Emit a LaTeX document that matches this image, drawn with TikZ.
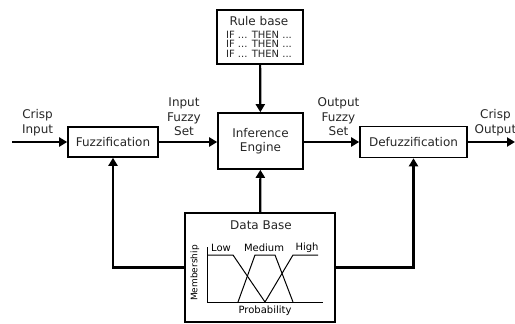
\documentclass[tikz,border=0pt]{standalone}
\usepackage{fontspec}
\setmainfont{DejaVu Sans}
\usetikzlibrary{arrows.meta}
\begin{document}
\begin{tikzpicture}[x=1pt,y=-1pt,
  block/.style={draw,line width=1.6pt,align=center,font=\fontsize{12}{14.5}\selectfont,text=black!85},
  flow/.style={line width=2.2pt,-{Triangle[length=8pt,width=9pt]}},
  lbl/.style={align=center,font=\fontsize{12}{14.5}\selectfont,text=black!85,inner sep=1pt},
  curve/.style={line width=1pt},
  small/.style={font=\fontsize{10}{11}\selectfont,inner sep=0pt}]
\useasboundingbox (0,0) rectangle (515,324);
\node[block,minimum width=90pt,minimum height=30pt] (fuzz) at (113,142) {Fuzzification};
\node[block,minimum width=85pt,minimum height=56pt] (inf) at (260.5,141) {Inference\\Engine};
\node[block,minimum width=107pt,minimum height=31pt] (defuzz) at (413.5,142) {Defuzzification};
\node[block,minimum width=86pt,minimum height=54pt] (rule) at (260,37) {};
\node[block,minimum width=150pt,minimum height=109pt] (db) at (260,267.5) {};
\coordinate (in) at (12,142);
\coordinate (out) at (515,142);
% rule base text
\node[lbl] (rulename) at (259,21) {Rule base};
\node[lbl,font=\fontsize{10}{9.6}\selectfont] (ifs) at (259,44) {IF ... THEN ...\\IF ... THEN ...\\IF ... THEN ...};
% inputs and outputs
\draw[flow] (in) -- node[lbl,above=4pt,xshift=-2pt] {Crisp\\Input} (fuzz);
\draw[flow] (fuzz) -- node[lbl,above=4pt,xshift=-4pt] {Input\\Fuzzy\\Set} (fuzz -| inf.west);
\draw[flow] (inf.east |- defuzz) -- node[lbl,above=4pt,xshift=7pt] {Output\\Fuzzy\\Set} (defuzz);
\draw[flow] (defuzz) -- node[lbl,above=4pt,xshift=4pt] {Crisp\\Output} (out);
\draw[flow] (rule) -- (inf);
% data base feeds all three
\draw[flow] (db) -- (inf);
\draw[flow] (db.west) -| (fuzz);
\draw[flow] (db.east) -| (defuzz);
% inside the data base
\node[lbl] (dbname) at (261,225) {Data Base};
\node[small,rotate=90,font=\fontsize{9}{10}\selectfont] (memb) at (195,273) {Membership};
\node[small] (prob) at (265,311) {Probability};
\node[small] (low) at (221,248) {Low};
\node[small] (med) at (264,248) {Medium};
\node[small] (high) at (307,248) {High};
\draw[curve] (207,247) -- (207,302) -- (323,302);
\draw[curve] (207,255) -- (233,255) -- (265,302);
\draw[curve] (238,302) -- (255,255) -- (275,255) -- (293,302);
\draw[curve] (265,302) -- (293,255) -- (318,255);
\end{tikzpicture}
\end{document}
